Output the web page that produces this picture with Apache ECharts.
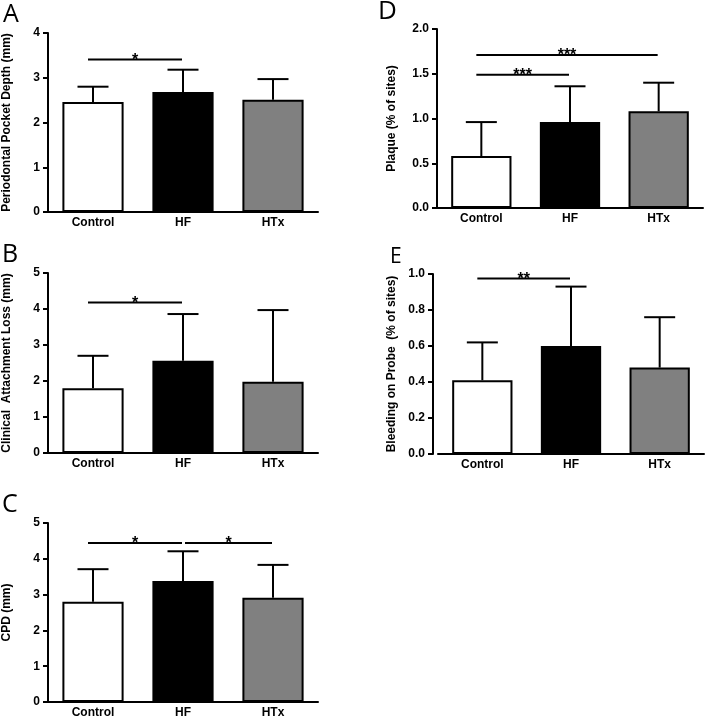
<!DOCTYPE html>
<html>
<head>
<meta charset="utf-8">
<script src="https://cdn.jsdelivr.net/npm/echarts@6/dist/echarts.min.js"></script>
<style>
html,body{margin:0;padding:0;background:#fff;}
#chart{width:709px;height:719px;}
</style>
</head>
<body>
<div id="chart"></div>
<script>
const categories = ['Control', 'HF', 'HTx'];

// Panel A: Periodontal Pocket Depth (mm)
const ppdMean = [2.46, 2.68, 2.51];
const ppdErr  = [2.80, 3.18, 2.97];
const ppdSig  = [[0, 1, 3.41, '*']];

// Panel B: Clinical Attachment Loss (mm)
const calMean = [1.80, 2.56, 1.98];
const calErr  = [2.70, 3.86, 3.97];
const calSig  = [[0, 1, 4.18, '*']];

// Panel C: CPD (mm)
const cpdMean = [2.80, 3.38, 2.91];
const cpdErr  = [3.71, 4.21, 3.83];
const cpdSig  = [[0, 1, 4.44, '*'], [1, 2, 4.44, '*']];

// Panel D: Plaque (% of sites)
const plqMean = [0.58, 0.96, 1.08];
const plqErr  = [0.96, 1.36, 1.40];
const plqSig  = [[0, 1, 1.49, '***'], [0, 2, 1.71, '***']];

// Panel E: Bleeding on Probe (% of sites)
const bopMean = [0.41, 0.60, 0.48];
const bopErr  = [0.62, 0.93, 0.76];
const bopSig  = [[0, 1, 0.975, '**']];

const barColors = ['#ffffff', '#000000', '#808080'];

const panels = [
  {letter:'A', title:'Periodontal Pocket Depth (mm)', mean:ppdMean, err:ppdErr, sig:ppdSig, max:4, interval:1, dec:0,
   grid:{left:48, width:270, top:33, height:179}, nameGap:35, yOffset:0, lx:3, ly:2, lsize:25},
  {letter:'B', title:'Clinical  Attachment Loss (mm)', mean:calMean, err:calErr, sig:calSig, max:5, interval:1, dec:0,
   grid:{left:48, width:270, top:273, height:180}, nameGap:35, yOffset:0, lx:2, ly:242, lsize:25},
  {letter:'C', title:'CPD (mm)', mean:cpdMean, err:cpdErr, sig:cpdSig, max:5, interval:1, dec:0,
   grid:{left:48, width:270, top:523, height:179}, nameGap:35, yOffset:0, lx:2, ly:492, lsize:25},
  {letter:'D', title:'Plaque (% of sites)', mean:plqMean, err:plqErr, sig:plqSig, max:2, interval:0.5, dec:1,
   grid:{left:437, width:266, top:29, height:179}, nameGap:39, yOffset:0, lx:378, ly:-1, lsize:26},
  {letter:'E', title:'Bleeding on Probe  (% of sites)', mean:bopMean, err:bopErr, sig:bopSig, max:1, interval:0.2, dec:1,
   grid:{left:438, width:266, top:274, height:180}, nameGap:35, yOffset:5, lx:390, ly:247, lsize:21}
];

const FONT = '"Liberation Sans", Arial, sans-serif';
const grids = [], xAxes = [], yAxes = [], series = [], graphics = [];

panels.forEach((p, i) => {
  grids.push(Object.assign({containLabel:false}, p.grid));
  xAxes.push({
    type:'category', gridIndex:i, data:categories,
    axisLine:{lineStyle:{color:'#000', width:2}},
    axisTick:{show:false},
    axisLabel:{color:'#000', fontFamily:FONT, fontWeight:'bold', fontSize:12, margin:5}
  });
  yAxes.push({
    type:'value', gridIndex:i, min:0, max:p.max, interval:p.interval, offset:p.yOffset,
    name:p.title, nameLocation:'middle', nameGap:p.nameGap, nameRotate:90,
    nameTextStyle:{color:'#000', fontFamily:FONT, fontWeight:'bold', fontSize:12},
    axisLine:{show:true, lineStyle:{color:'#000', width:2}},
    axisTick:{show:true, length:5, lineStyle:{color:'#000', width:2}},
    splitLine:{show:false},
    axisLabel:{color:'#000', fontFamily:FONT, fontWeight:'bold', fontSize:12, margin:8,
      formatter: v => v.toFixed(p.dec)}
  });
  series.push({
    type:'bar', xAxisIndex:i, yAxisIndex:i, barWidth:'68%',
    data: p.mean.map((v, k) => ({value:v, itemStyle:{color:barColors[k], borderColor:'#000', borderWidth:2}})),
    z:2, silent:true
  });
  series.push({
    type:'custom', xAxisIndex:i, yAxisIndex:i, z:3, silent:true,
    data: p.mean.map((v, k) => [k, v, p.err[k]]),
    renderItem: (params, api) => {
      const base = api.coord([api.value(0), api.value(1)]);
      const top = api.coord([api.value(0), api.value(2)]);
      const cap = 15.5;
      return {type:'group', children:[
        {type:'line', shape:{x1:base[0], y1:base[1], x2:top[0], y2:top[1]}, style:{stroke:'#000', lineWidth:2}},
        {type:'line', shape:{x1:top[0]-cap, y1:top[1], x2:top[0]+cap, y2:top[1]}, style:{stroke:'#000', lineWidth:2}}
      ]};
    }
  });
  series.push({
    type:'custom', xAxisIndex:i, yAxisIndex:i, z:3, silent:true,
    data: p.sig,
    renderItem: (params, api) => {
      const a = api.coord([api.value(0), api.value(2)]);
      const b = api.coord([api.value(1), api.value(2)]);
      const x1 = a[0] + (api.value(0) > 0 ? 2 : -5);
      const x2 = b[0] - 1;
      return {type:'group', children:[
        {type:'line', shape:{x1:x1, y1:a[1], x2:x2, y2:a[1]}, style:{stroke:'#000', lineWidth:2}},
        {type:'text', x:(x1+x2)/2, y:a[1]+1, style:{text:p.sig[params.dataIndex][3], fill:'#000',
          font:'bold 16px ' + FONT, textAlign:'center', textVerticalAlign:'middle'}}
      ]};
    }
  });
  graphics.push({type:'text', left:p.lx, top:p.ly, style:{text:p.letter, fill:'#000',
    font:'normal ' + p.lsize + 'px "Open Sans", "Liberation Sans", sans-serif'}});
});

const chart = echarts.init(document.getElementById('chart'), null, {renderer:'canvas'});
chart.setOption({
  animation:false,
  backgroundColor:'#fff',
  grid:grids, xAxis:xAxes, yAxis:yAxes, series:series, graphic:graphics
});
</script>
</body>
</html>
